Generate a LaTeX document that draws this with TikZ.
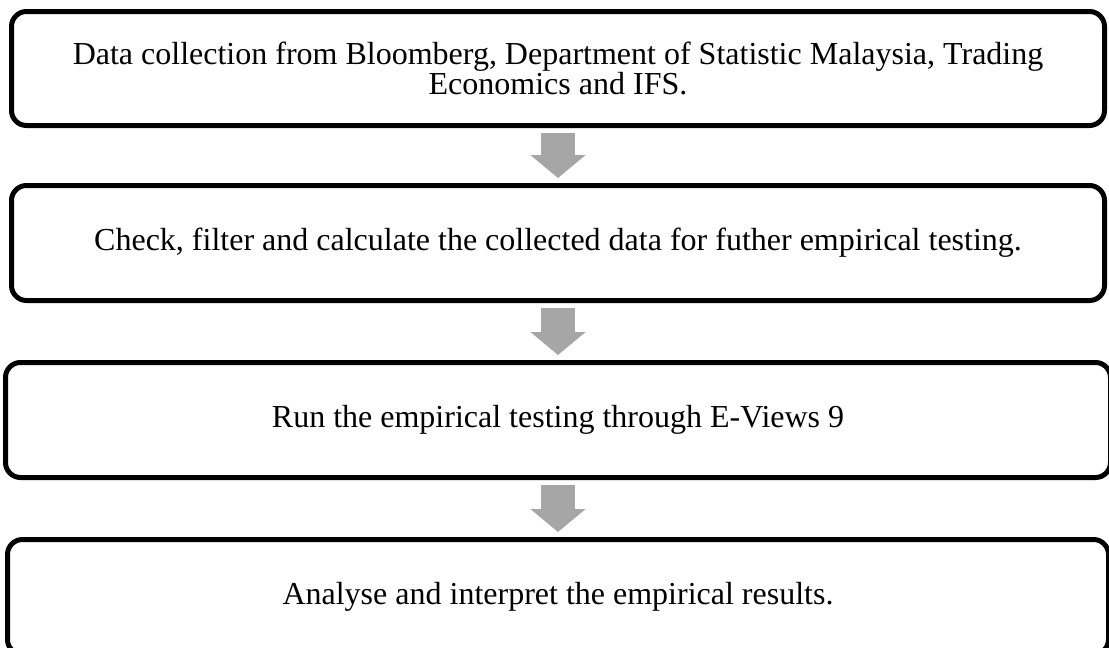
\documentclass[tikz,border=0pt]{standalone}
\usepackage{fontspec}
\setmainfont{Liberation Serif}
\usetikzlibrary{positioning, arrows.meta}
\definecolor{arrowgrey}{RGB}{166,166,166}
\tikzstyle{stepbox}=[rectangle, rounded corners=15pt, line width=5pt, draw=black, minimum width=1093pt, minimum height=115pt, align=center, outer sep=0pt, inner sep=0pt, font=\fontsize{32}{30}\selectfont]
\tikzstyle{blockarrow}=[line width=34pt, draw=arrowgrey, -{Triangle[width=54pt, length=23pt]}, shorten <=7.5pt, shorten >=7.5pt]

\begin{document}
\begin{tikzpicture}[x=1pt, y=-1pt, node distance=60pt]
		\useasboundingbox (0,0) rectangle (1109,648);
		
		\node(s1)[stepbox, minimum height=114pt, anchor=north west] at (11.5,11.5){Data collection from Bloomberg, Department of Statistic Malaysia, Trading\\
		Economics and IFS.};
		
		
		\node(s2)[stepbox, below=of s1]{Check, filter and calculate the collected data for futher empirical testing.};
		
		
		\node(s3)[stepbox, below=of s2, xshift=0pt, yshift=-2pt, minimum width=1105pt]{Run the empirical testing through E-Views 9};
		
		
		\node(s4)[stepbox, below=of s3, yshift=-2pt, minimum width=1101pt]{Analyse and interpret the empirical results.};
		
		
		\draw[blockarrow](s1)--(s2);
		\draw[blockarrow](s2)--(s3);
		\draw[blockarrow](s3)--(s4);
		
	\end{tikzpicture}
\end{document}
